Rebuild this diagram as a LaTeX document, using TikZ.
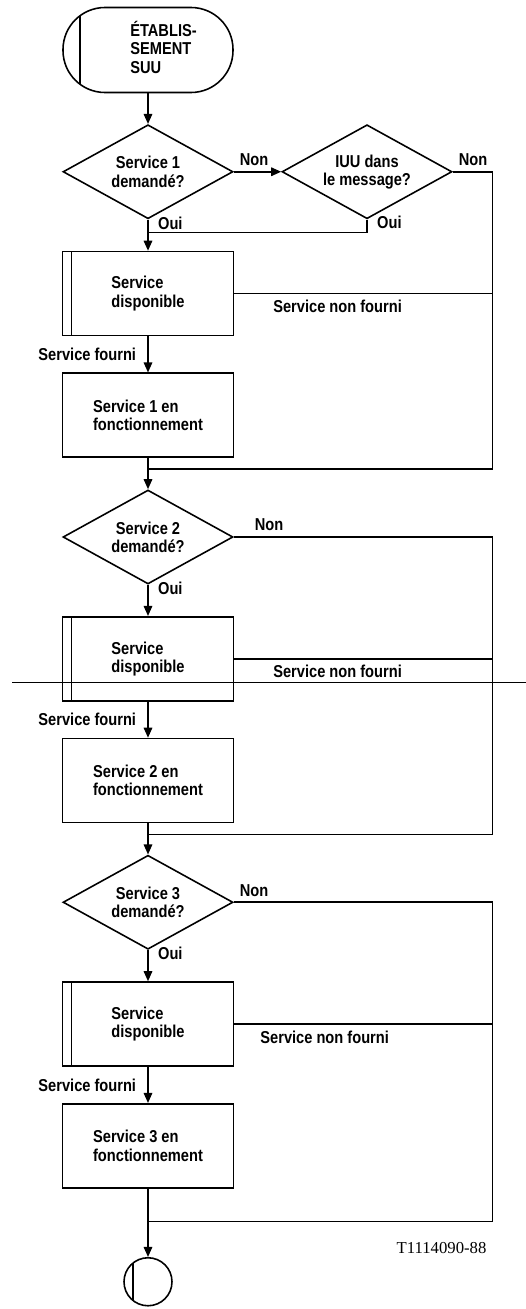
\documentclass[tikz,border=0pt]{standalone}
\usepackage{fontspec}
\setmainfont{Liberation Sans}[FakeStretch=0.85]
\newfontfamily\numfont{Liberation Serif}
\usetikzlibrary{arrows.meta,positioning,shapes.geometric}
\tikzstyle{box}=[draw, minimum width=3.42cm, minimum height=1.68cm, align=left, inner sep=2pt]
\tikzstyle{sub}=[box, path picture={\draw ([xshift=0.18cm]path picture bounding box.south west) -- ([xshift=0.18cm]path picture bounding box.north west);}]
\tikzstyle{ask}=[draw, diamond, aspect=1.8, minimum width=3.4cm, minimum height=1.88cm, align=center, inner sep=1pt]
\tikzstyle{term}=[draw, rounded corners=0.84cm, minimum width=3.4cm, minimum height=1.7cm, path picture={\draw ([xshift=0.34cm]path picture bounding box.south west) -- ([xshift=0.34cm]path picture bounding box.north west);}]
\tikzstyle{stopper}=[draw, circle, minimum size=0.96cm, inner sep=0pt, path picture={\draw ([xshift=0.18cm]path picture bounding box.south west) -- ([xshift=0.18cm]path picture bounding box.north west);}]
\tikzstyle{non}=[pos=0, anchor=south west, inner sep=3pt]
\tikzstyle{oui}=[pos=0.12, right=2pt]
\tikzstyle{fourni}=[midway, left=3pt]
\tikzstyle{nf}=[below, pos=0.4]

\begin{document}
\begin{tikzpicture}[node distance=2.435cm,auto,>={Triangle[length=2mm,width=1.7mm]},font=\bfseries\fontsize{9.8}{10.4}\selectfont,line width=0.9pt]
        \useasboundingbox (0,0) rectangle (10.52,-26.18);
        \node [term] (start) at (2.96,-1.0) {\begin{tabular}{@{\hspace{0.62cm}}l@{}}ÉTABLIS-\\SEMENT\\SUU\end{tabular}};
        \node [ask] (q1) [below of=start] {Service 1\\demandé?};
        \node [ask] (iuu) [right of=q1,node distance=4.38cm] {IUU dans\\le message?};
        \node [sub] (av1) [below of=q1] {Service\\disponible};
        \node [box] (run1) [below of=av1] {Service 1 en\\fonctionnement};
        \node [ask] (q2) [below of=run1] {Service 2\\demandé?};
        \node [sub] (av2) [below of=q2] {Service\\disponible};
        \node [box] (run2) [below of=av2] {Service 2 en\\fonctionnement};
        \node [ask] (q3) [below of=run2] {Service 3\\demandé?};
        \node [sub] (av3) [below of=q3] {Service\\disponible};
        \node [box] (run3) [below of=av3] {Service 3 en\\fonctionnement};
        \node [stopper] (stop) [below of=run3,node distance=2.72cm] {};
        \node [font=\numfont\mdseries\fontsize{9.5}{11}\selectfont, anchor=base east] (ref) at (9.86,-25.06) {T1114090-88};
        % return points
        \coordinate (rr) at (9.85,0);
        \coordinate (j0) at ([yshift=-0.26cm]q1.south);
        \coordinate (j1) at ([yshift=-0.22cm]run1.south);
        \coordinate (j2) at ([yshift=-0.22cm]run2.south);
        \coordinate (j3) at ([yshift=-0.66cm]run3.south);
        \path[->]
        (start) edge (q1)
        (q1) edge node[non] {Non} (iuu)
        (q1) edge node[oui] {Oui} (av1)
        (av1) edge node[fourni] {Service fourni} (run1)
        (run1) edge (q2)
        (q2) edge node[oui] {Oui} (av2)
        (av2) edge node[fourni] {Service fourni} (run2)
        (run2) edge (q3)
        (q3) edge node[oui] {Oui} (av3)
        (av3) edge node[fourni] {Service fourni} (run3)
        (run3) edge (stop);
        \draw (iuu.south) |- node[oui,pos=0.1] {Oui} (j0);
        \draw (iuu.east) -- node[non] {Non} (iuu.east -| rr) |- (j1);
        \draw (av1.east) -- node[nf] {Service non fourni} (av1.east -| rr);
        \draw (q2.east) -- node[non,xshift=0.3cm] {Non} (q2.east -| rr) |- (j2);
        \draw (av2.east) -- node[nf] {Service non fourni} (av2.east -| rr);
        \draw (q3.east) -- node[non] {Non} (q3.east -| rr) |- (j3);
        \draw (av3.east) -- node[nf,pos=0.35] {Service non fourni} (av3.east -| rr);
        \draw [line width=0.5pt] (0.24,-13.64) -- (10.52,-13.64);
    \end{tikzpicture}
\end{document}
